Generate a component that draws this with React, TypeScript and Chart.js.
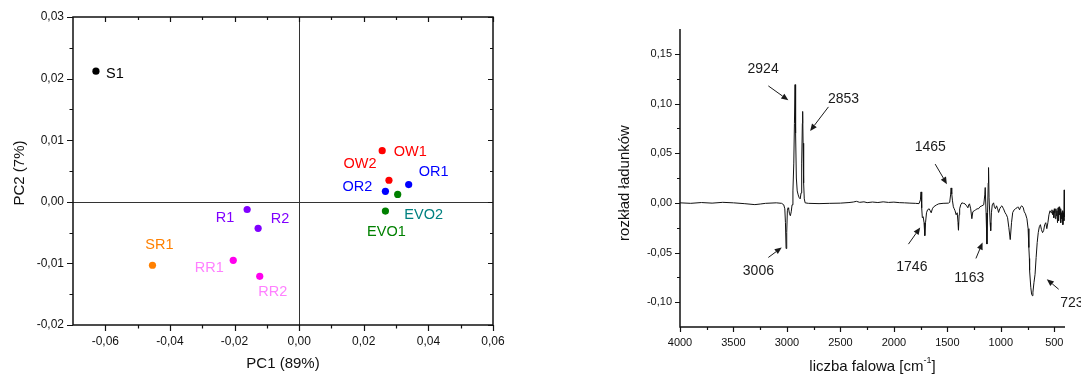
import React, { useEffect, useRef } from 'react';
import { Chart, registerables } from 'chart.js';

Chart.register(...registerables);

const FONT = '"Liberation Sans", Arial, Helvetica, sans-serif';

// ---------- Left panel: PCA scores ----------
const sampleNames = ['S1', 'SR1', 'R1', 'R2', 'RR1', 'RR2', 'OW1', 'OW2', 'OR1', 'OR2', 'EVO1', 'EVO2'];
const pc1Scores = [-0.0629, -0.0454, -0.0161, -0.0127, -0.0204, -0.0122, 0.0257, 0.0278, 0.0339, 0.0267, 0.0267, 0.0305];
const pc2Scores = [0.0212, -0.0103, -0.00125, -0.0043, -0.0095, -0.0121, 0.0083, 0.0035, 0.0028, 0.0017, -0.0015, 0.0012];
const pointColors = ['#000000', '#ff8000', '#8000ff', '#8000ff', '#ff00ee', '#ff00ee', '#ff0000', '#ff0000', '#0000ff', '#0000ff', '#008000', '#008000'];
const labelColors = ['#000000', '#ff8000', '#8000ff', '#8000ff', '#ff80ff', '#ff80ff', '#ff0000', '#ff0000', '#0000ff', '#0000ff', '#008000', '#008080'];
// label offsets from the point, in pixels (style)
const labelOffsets = [[19, 3], [7, -20], [-22, 8], [22, -9], [-24, 8], [13, 16], [28, 1], [-29, -16], [25, -13], [-28, -4], [1, 21], [26, 21]];

const pcaXTicks = [-0.06, -0.04, -0.02, 0, 0.02, 0.04, 0.06];
const pcaXMinor = [-0.05, -0.03, -0.01, 0.01, 0.03, 0.05];
const pcaYTicks = [-0.02, -0.01, 0, 0.01, 0.02, 0.03];
const pcaYMinor = [-0.015, -0.005, 0.005, 0.015, 0.025];
const pcaXTitle = 'PC1 (89%)';
const pcaYTitle = 'PC2 (7%)';

// ---------- Right panel: PC1 loadings spectrum ----------
const wavenumbers = [
  4000, 3900, 3800, 3700, 3600, 3500, 3400, 3300, 3250, 3200, 3100, 3050, 3030, 3020, 3014, 3008, 3002, 2996, 2990, 2984,
  2976, 2968, 2960, 2952, 2944, 2936, 2930, 2924, 2919, 2912, 2904, 2895, 2885, 2876, 2868, 2862, 2856, 2853, 2849, 2844,
  2838, 2830, 2800, 2700, 2600, 2500, 2420, 2380, 2350, 2320, 2280, 2250, 2200, 2150, 2100, 2050, 2000, 1950, 1900, 1850,
  1800, 1765, 1752, 1746, 1740, 1734, 1726, 1718, 1711, 1704, 1695, 1685, 1670, 1660, 1651, 1640, 1628, 1600, 1580, 1540,
  1490, 1478, 1470, 1465, 1459, 1452, 1444, 1436, 1428, 1418, 1408, 1400, 1396, 1390, 1385, 1375, 1364, 1350, 1335, 1320,
  1308, 1300, 1293, 1282, 1271, 1262, 1249, 1235, 1222, 1209, 1195, 1177, 1160, 1150, 1146, 1138, 1130, 1124, 1118, 1115,
  1110, 1100, 1095, 1088, 1080, 1068, 1060, 1050, 1040, 1030, 1021, 1010, 1000, 990, 975, 960, 948, 937, 925, 912,
  900, 889, 875, 864, 849, 840, 834, 825, 815, 803, 790, 781, 770, 756, 745, 738, 733, 731, 720, 712,
  705, 700, 690, 680, 670, 660, 650, 640, 630, 620, 610, 600, 590, 580, 570, 560, 550, 540, 530, 522,
  515, 510, 505, 500, 495, 490, 485, 480, 475, 470, 465, 460, 455, 450, 445, 440, 435, 430, 425, 420,
  415, 410, 407, 405,
];
const loadings = [
  0.0, -0.0005, 0.0003, -0.0003, 0.0005, 0.0, -0.0008, -0.0018, -0.0012, -0.0005, 0.0, -0.0005, -0.002, -0.006, -0.02, -0.046, -0.03, -0.008, -0.005, -0.006,
  -0.011, -0.013, -0.009, -0.002, 0.012, 0.04, 0.08, 0.119, 0.07, 0.025, 0.012, 0.008, 0.005, 0.004, 0.01, 0.04, 0.08, 0.092, 0.06, 0.02,
  0.004, 0.0, -0.0005, -0.0008, -0.0005, -0.0003, 0.0003, 0.0008, 0.0015, 0.0005, 0.001, 0.0002, 0.0008, 0.0003, 0.001, 0.0004, 0.0007, 0.0002, 0.0, -0.0003,
  -0.0005, -0.0008, 0.003, 0.011, -0.005, -0.015, -0.014, -0.02, -0.033, -0.02, -0.01, -0.007, -0.006, -0.008, -0.01, -0.006, -0.004, -0.002, -0.001, -0.0005,
  -0.0003, 0.0005, 0.008, 0.015, 0.009, 0.002, -0.004, -0.006, -0.008, -0.012, -0.01, -0.02, -0.0275, -0.012, -0.006, -0.002, 0.0, -0.0005, -0.001, -0.003,
  -0.005, -0.002, -0.001, -0.006, -0.016, -0.009, -0.008, -0.007, -0.006, -0.006, -0.004, -0.003, -0.002, 0.008, 0.0154, -0.01, -0.0415, -0.01, 0.02, 0.0355,
  0.005, -0.02, -0.028, -0.01, -0.002, 0.0, -0.004, -0.006, -0.003, -0.006, -0.0097, -0.006, -0.004, -0.003, -0.006, -0.01, -0.012, -0.015, -0.025, -0.037,
  -0.02, -0.0097, -0.007, -0.006, -0.005, -0.004, -0.005, -0.007, -0.004, -0.003, -0.005, -0.009, -0.011, -0.016, -0.026, -0.045, -0.056, -0.068, -0.085, -0.092,
  -0.0935, -0.09, -0.08, -0.072, -0.055, -0.04, -0.03, -0.024, -0.022, -0.027, -0.03, -0.028, -0.022, -0.02, -0.026, -0.02, -0.012, -0.008, -0.01, -0.007,
  -0.012, -0.008, -0.015, -0.006, -0.01, -0.016, -0.006, -0.013, -0.008, -0.02, -0.005, -0.018, -0.004, -0.012, -0.006, -0.02, -0.01, -0.016, -0.008, -0.022,
  -0.01, -0.018, 0.013, -0.014,
];

const wnTicks = [4000, 3500, 3000, 2500, 2000, 1500, 1000, 500];
const wnMinor = [3750, 3250, 2750, 2250, 1750, 1250, 750];
const loadTicks = [-0.1, -0.05, 0, 0.05, 0.1, 0.15];
const loadMinor = [-0.075, -0.025, 0.025, 0.075, 0.125];
const specYTitle = 'rozkład ładunków';
const specXTitleMain = 'liczba falowa [cm';
const specXTitleSup = '-1';
const specXTitleEnd = ']';

// peak annotations (data coordinates)
const peakLabels = ['2924', '2853', '3006', '1746', '1465', '1163', '723'];
const peakTextWn = [3223, 2471, 3267, 1832, 1660, 1296, 335];
const peakTextLoad = [0.1345, 0.1043, -0.069, -0.065, 0.0563, -0.076, -0.1006];
const arrowTailWn = [3174, 2612, 3174, 1864, 1614, 1233, 459];
const arrowTailLoad = [0.1177, 0.0966, -0.055, -0.0416, 0.039, -0.056, -0.087];
const arrowHeadWn = [2987, 2783, 3049, 1754, 1504, 1171, 570];
const arrowHeadLoad = [0.1033, 0.0724, -0.045, -0.0248, 0.0188, -0.04, -0.077];

const fmtComma = (v: number) => (Math.abs(v) < 1e-9 ? '0,00' : v.toFixed(2).replace('.', ','));

function drawTicks(ctx, scale, values, axis, pos, dir, len) {
  ctx.beginPath();
  for (const v of values) {
    const p = Math.round(scale.getPixelForValue(v)) + 0.5;
    if (axis === 'x') {
      ctx.moveTo(p, pos);
      ctx.lineTo(p, pos + dir * len);
    } else {
      ctx.moveTo(pos, p);
      ctx.lineTo(pos + dir * len, p);
    }
  }
  ctx.stroke();
}

const pcaPlugin = {
  id: 'pcaDecor',
  beforeDatasetsDraw(chart) {
    const { ctx, chartArea: a, scales } = chart;
    const x0 = Math.round(scales.x.getPixelForValue(0)) + 0.5;
    const y0 = Math.round(scales.y.getPixelForValue(0)) + 0.5;
    ctx.save();
    ctx.strokeStyle = '#333';
    ctx.lineWidth = 1;
    ctx.beginPath();
    ctx.moveTo(x0, a.top);
    ctx.lineTo(x0, a.bottom);
    ctx.moveTo(a.left, y0);
    ctx.lineTo(a.right, y0);
    ctx.stroke();
    ctx.restore();
  },
  afterDatasetsDraw(chart) {
    const { ctx } = chart;
    const meta = chart.getDatasetMeta(0);
    ctx.save();
    ctx.font = `14.5px ${FONT}`;
    ctx.textAlign = 'center';
    ctx.textBaseline = 'middle';
    meta.data.forEach((pt, i) => {
      ctx.fillStyle = labelColors[i];
      ctx.fillText(sampleNames[i], pt.x + labelOffsets[i][0], pt.y + labelOffsets[i][1]);
    });
    ctx.restore();
  },
  afterDraw(chart) {
    const { ctx, chartArea: a, scales } = chart;
    const { x, y } = scales;
    ctx.save();
    ctx.strokeStyle = '#111';
    ctx.lineWidth = 1.5;
    ctx.strokeRect(a.left, a.top, a.right - a.left, a.bottom - a.top);
    ctx.lineWidth = 1.2;
    drawTicks(ctx, x, pcaXTicks, 'x', a.bottom, 1, 6);
    drawTicks(ctx, x, pcaXMinor, 'x', a.bottom, 1, 3.5);
    drawTicks(ctx, x, pcaXTicks, 'x', a.top, 1, 5);
    drawTicks(ctx, x, pcaXMinor, 'x', a.top, 1, 3);
    drawTicks(ctx, y, pcaYTicks, 'y', a.left, -1, 6);
    drawTicks(ctx, y, pcaYMinor, 'y', a.left, -1, 3.5);
    drawTicks(ctx, y, pcaYTicks, 'y', a.right, -1, 5);
    drawTicks(ctx, y, pcaYMinor, 'y', a.right, -1, 3);
    // titles
    ctx.fillStyle = '#111';
    ctx.font = `15px ${FONT}`;
    ctx.textAlign = 'center';
    ctx.textBaseline = 'middle';
    ctx.fillText(pcaXTitle, (a.left + a.right) / 2, a.bottom + 39);
    ctx.translate(a.left - 53, (a.top + a.bottom) / 2 + 2);
    ctx.rotate(-Math.PI / 2);
    ctx.fillText(pcaYTitle, 0, 0);
    ctx.restore();
  },
};

const spectrumPlugin = {
  id: 'spectrumDecor',
  afterDraw(chart) {
    const { ctx, chartArea: a, scales } = chart;
    const { x, y } = scales;
    ctx.save();
    ctx.strokeStyle = '#111';
    ctx.lineWidth = 1.5;
    ctx.beginPath();
    ctx.moveTo(a.left, a.top);
    ctx.lineTo(a.left, a.bottom);
    ctx.lineTo(a.right, a.bottom);
    ctx.stroke();
    ctx.lineWidth = 1.2;
    drawTicks(ctx, x, wnTicks, 'x', a.bottom, 1, 5);
    drawTicks(ctx, x, wnMinor, 'x', a.bottom, 1, 3);
    drawTicks(ctx, y, loadTicks, 'y', a.left, -1, 5);
    drawTicks(ctx, y, loadMinor, 'y', a.left, -1, 3);

    // annotations
    ctx.fillStyle = '#1a1a1a';
    ctx.strokeStyle = '#1a1a1a';
    ctx.lineWidth = 1;
    ctx.font = `14px ${FONT}`;
    ctx.textAlign = 'center';
    ctx.textBaseline = 'middle';
    peakLabels.forEach((lab, i) => {
      ctx.fillText(lab, x.getPixelForValue(peakTextWn[i]), y.getPixelForValue(peakTextLoad[i]));
      const tx = x.getPixelForValue(arrowTailWn[i]);
      const ty = y.getPixelForValue(arrowTailLoad[i]);
      const hx = x.getPixelForValue(arrowHeadWn[i]);
      const hy = y.getPixelForValue(arrowHeadLoad[i]);
      const ang = Math.atan2(hy - ty, hx - tx);
      const L = 7;
      const W = 3;
      const bx = hx - L * Math.cos(ang);
      const by = hy - L * Math.sin(ang);
      ctx.beginPath();
      ctx.moveTo(tx, ty);
      ctx.lineTo(bx, by);
      ctx.stroke();
      ctx.beginPath();
      ctx.moveTo(hx, hy);
      ctx.lineTo(bx + W * Math.sin(ang), by - W * Math.cos(ang));
      ctx.lineTo(bx - W * Math.sin(ang), by + W * Math.cos(ang));
      ctx.closePath();
      ctx.fill();
    });

    // axis titles
    ctx.fillStyle = '#111';
    ctx.font = `15px ${FONT}`;
    const supFont = `9px ${FONT}`;
    const wMain = ctx.measureText(specXTitleMain).width;
    const wEnd = ctx.measureText(specXTitleEnd).width;
    ctx.font = supFont;
    const wSup = ctx.measureText(specXTitleSup).width;
    const total = wMain + wSup + wEnd;
    const cx = (a.left + a.right) / 2;
    const ty = a.bottom + 40;
    let sx = cx - total / 2;
    ctx.textAlign = 'left';
    ctx.font = `15px ${FONT}`;
    ctx.fillText(specXTitleMain, sx, ty);
    sx += wMain;
    ctx.font = supFont;
    ctx.fillText(specXTitleSup, sx, ty - 6);
    sx += wSup;
    ctx.font = `15px ${FONT}`;
    ctx.fillText(specXTitleEnd, sx, ty);

    ctx.textAlign = 'center';
    ctx.translate(a.left - 55, (a.top + a.bottom) / 2 + 5);
    ctx.rotate(-Math.PI / 2);
    ctx.fillText(specYTitle, 0, 0);
    ctx.restore();
  },
};

function pcaConfig(): any {
  return {
    type: 'scatter',
    data: {
      datasets: [
        {
          data: pc1Scores.map((v, i) => ({ x: v, y: pc2Scores[i] })),
          pointBackgroundColor: pointColors,
          pointBorderColor: pointColors,
          pointBorderWidth: 0,
          pointRadius: 3.6,
        },
      ],
    },
    options: {
      animation: false,
      responsive: false,
      devicePixelRatio: 1,
      layout: { padding: { top: 17, right: 47, left: 0, bottom: 0 } },
      plugins: { legend: { display: false }, tooltip: { enabled: false } },
      scales: {
        x: {
          type: 'linear',
          min: -0.07,
          max: 0.06,
          afterBuildTicks: (s) => {
            s.ticks = pcaXTicks.map((v) => ({ value: v }));
          },
          afterFit: (s) => {
            s.height = 49;
          },
          grid: { display: false, drawTicks: false },
          border: { display: false },
          ticks: {
            autoSkip: false,
            maxRotation: 0,
            padding: 9,
            color: '#111',
            font: { family: FONT, size: 12 },
            callback: (v) => fmtComma(Number(v)),
          },
        },
        y: {
          type: 'linear',
          min: -0.02,
          max: 0.03,
          afterBuildTicks: (s) => {
            s.ticks = pcaYTicks.map((v) => ({ value: v }));
          },
          afterFit: (s) => {
            s.width = 73;
          },
          grid: { display: false, drawTicks: false },
          border: { display: false },
          ticks: {
            autoSkip: false,
            padding: 9,
            color: '#111',
            font: { family: FONT, size: 12 },
            callback: (v) => fmtComma(Number(v)),
          },
        },
      },
    },
    plugins: [pcaPlugin],
  };
}

function spectrumConfig(): any {
  return {
    type: 'scatter',
    data: {
      datasets: [
        {
          data: wavenumbers.map((w, i) => ({ x: w, y: loadings[i] })),
          showLine: true,
          borderColor: '#111',
          borderWidth: 1,
          pointRadius: 0,
          tension: 0,
        },
      ],
    },
    options: {
      animation: false,
      responsive: false,
      devicePixelRatio: 1,
      layout: { padding: { top: 29, right: 16, left: 0, bottom: 0 } },
      plugins: { legend: { display: false }, tooltip: { enabled: false } },
      scales: {
        x: {
          type: 'linear',
          reverse: true,
          min: 400,
          max: 4000,
          afterBuildTicks: (s) => {
            s.ticks = wnTicks.map((v) => ({ value: v }));
          },
          afterFit: (s) => {
            s.height = 47;
          },
          grid: { display: false, drawTicks: false },
          border: { display: false },
          ticks: {
            autoSkip: false,
            maxRotation: 0,
            padding: 9,
            color: '#111',
            font: { family: FONT, size: 11 },
            callback: (v) => String(v),
          },
        },
        y: {
          type: 'linear',
          min: -0.125,
          max: 0.175,
          afterBuildTicks: (s) => {
            s.ticks = loadTicks.map((v) => ({ value: v }));
          },
          afterFit: (s) => {
            s.width = 120;
          },
          grid: { display: false, drawTicks: false },
          border: { display: false },
          ticks: {
            autoSkip: false,
            padding: 8,
            color: '#111',
            font: { family: FONT, size: 11 },
            callback: (v) => fmtComma(Number(v)),
          },
        },
      },
    },
    plugins: [spectrumPlugin],
  };
}

export default function App() {
  const leftRef = useRef<HTMLCanvasElement>(null);
  const rightRef = useRef<HTMLCanvasElement>(null);

  useEffect(() => {
    const c1 = new Chart(leftRef.current as HTMLCanvasElement, pcaConfig());
    const c2 = new Chart(rightRef.current as HTMLCanvasElement, spectrumConfig());
    return () => {
      c1.destroy();
      c2.destroy();
    };
  }, []);

  return (
    <div style={{ position: 'absolute', left: 0, top: 0, width: 1081, height: 374, overflow: 'hidden', background: '#fff' }}>
      <canvas
        ref={leftRef}
        width={540}
        height={374}
        style={{ position: 'absolute', left: 0, top: 0, width: 540, height: 374, display: 'block' }}
      />
      <canvas
        ref={rightRef}
        width={521}
        height={374}
        style={{ position: 'absolute', left: 560, top: 0, width: 521, height: 374, display: 'block' }}
      />
    </div>
  );
}
